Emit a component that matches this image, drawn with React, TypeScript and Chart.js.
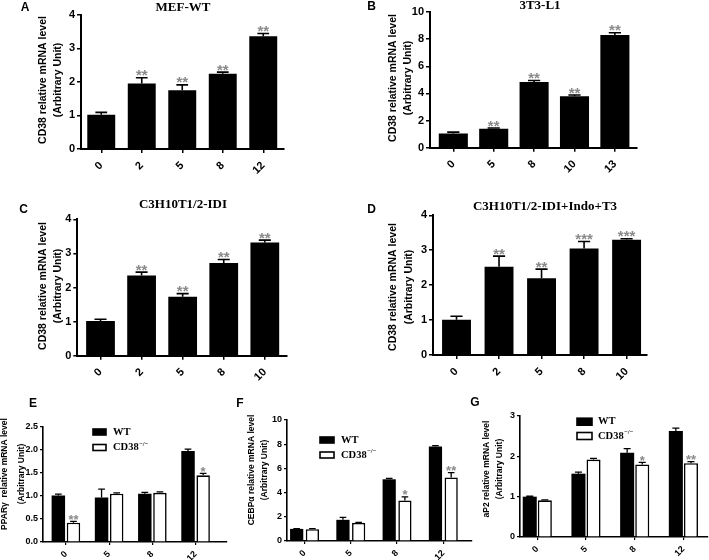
import React, { useEffect, useRef } from 'react';
import { Chart, registerables } from 'chart.js';

Chart.register(...registerables);

const W = 709;
const H = 560;
const CH = 620; // canvas height (taller than page so the x scale boxes never clip labels)

// ---------- data ----------
const daysA = ['0', '2', '5', '8', '12'];
const cd38A = [1.02, 1.95, 1.75, 2.24, 3.36];
const cd38ErrA = [0.07, 0.17, 0.16, 0.05, 0.08];
const starsA = ['', '**', '**', '**', '**'];

const daysB = ['0', '5', '8', '10', '13'];
const cd38B = [1.05, 1.4, 4.85, 3.8, 8.3];
const cd38ErrB = [0.1, 0.05, 0.1, 0.08, 0.17];
const starsB = ['', '**', '**', '**', '**'];

const daysC = ['0', '2', '5', '8', '10'];
const cd38C = [1.02, 2.35, 1.73, 2.72, 3.32];
const cd38ErrC = [0.05, 0.1, 0.09, 0.1, 0.07];
const starsC = ['', '**', '**', '**', '**'];

const daysD = ['0', '2', '5', '8', '10'];
const cd38D = [1.01, 2.53, 2.2, 3.05, 3.3];
const cd38ErrD = [0.1, 0.3, 0.26, 0.2, 0.03];
const starsD = ['', '**', '**', '***', '***'];

const daysEFG = ['0', '5', '8', '12'];

const ppargWT = [1.01, 0.97, 1.05, 1.98];
const ppargWTErr = [0.03, 0.18, 0.03, 0.04];
const ppargKO = [0.42, 1.05, 1.07, 1.45];
const ppargKOErr = [0.03, 0.02, 0.02, 0.04];
const ppargKOStars = ['**', '', '', '*'];

const cebpWT = [1.0, 1.75, 5.1, 7.8];
const cebpWTErr = [0.03, 0.2, 0.08, 0.08];
const cebpKO = [0.97, 1.5, 3.35, 5.25];
const cebpKOErr = [0.05, 0.04, 0.3, 0.4];
const cebpKOStars = ['', '', '*', '**'];

const ap2WT = [1.0, 1.57, 2.09, 2.63];
const ap2WTErr = [0.01, 0.04, 0.1, 0.07];
const ap2KO = [0.91, 1.92, 1.8, 1.83];
const ap2KOErr = [0.01, 0.03, 0.05, 0.04];
const ap2KOStars = ['', '', '*', '**'];

const noStars4 = ['', '', '', ''];

// ---------- fonts ----------
const SANS = '"Liberation Sans", Arial, sans-serif';
const SERIF = '"Liberation Serif", "Times New Roman", serif';
const STAR_COLOR = '#8a8a8a';

type Series = {
  label: string;
  values: number[];
  errs: number[];
  stars: string[];
  fill: string;
  borderW: number;
};

type Panel = {
  key: string;
  cats: string[];
  series: Series[];
  yMax: number;
  yStep: number;
  yDec: number;
  title?: string;
  titleX?: number;
  titleY?: number;
  letter: string;
  letterX: number;
  letterY: number;
  yTitle: string[];
  yTitleX: number[];
  yTitleY: number;
  area: { l: number; t: number; r: number; b: number };
  xMin: number;
  xMax: number;
  catPct: number;
  barPct: number;
  small: boolean;
  legend?: { x: number; w: number; h: number; rows: number[]; textX: number };
};

const single = (values: number[], errs: number[], stars: string[]): Series[] => [
  { label: 'CD38', values, errs, stars, fill: '#000', borderW: 0 },
];
const pair = (wt: number[], wtErr: number[], ko: number[], koErr: number[], koStars: string[]): Series[] => [
  { label: 'WT', values: wt, errs: wtErr, stars: noStars4, fill: '#000', borderW: 0 },
  { label: 'CD38-/-', values: ko, errs: koErr, stars: koStars, fill: '#fff', borderW: 1.6 },
];

const panels: Panel[] = [
  {
    key: 'A', cats: daysA, series: single(cd38A, cd38ErrA, starsA),
    yMax: 4, yStep: 1, yDec: 0,
    title: 'MEF-WT', titleX: 183, titleY: 8,
    letter: 'A', letterX: 25, letterY: 8,
    yTitle: ['CD38 relative mRNA level', '(Arbitrary Unit)'], yTitleX: [43, 58], yTitleY: 80,
    area: { l: 81, t: 14.7, r: 283.5, b: 149 }, xMin: -0.5, xMax: 4.5,
    catPct: 1, barPct: 0.69, small: false,
  },
  {
    key: 'B', cats: daysB, series: single(cd38B, cd38ErrB, starsB),
    yMax: 10, yStep: 2, yDec: 0,
    title: '3T3-L1', titleX: 540, titleY: 6,
    letter: 'B', letterX: 371.5, letterY: 7,
    yTitle: ['CD38 relative mRNA level', '(Arbitrary Unit)'], yTitleX: [393, 408], yTitleY: 78,
    area: { l: 430, t: 12, r: 636.7, b: 147.7 }, xMin: -0.577, xMax: 4.54,
    catPct: 1, barPct: 0.72, small: false,
  },
  {
    key: 'C', cats: daysC, series: single(cd38C, cd38ErrC, starsC),
    yMax: 4, yStep: 1, yDec: 0,
    title: 'C3H10T1/2-IDI', titleX: 183, titleY: 205,
    letter: 'C', letterX: 23.5, letterY: 210,
    yTitle: ['CD38 relative mRNA level', '(Arbitrary Unit)'], yTitleX: [43, 58], yTitleY: 286,
    area: { l: 77.3, t: 219.3, r: 287, b: 355.7 }, xMin: -0.565, xMax: 4.54,
    catPct: 1, barPct: 0.7, small: false,
  },
  {
    key: 'D', cats: daysD, series: single(cd38D, cd38ErrD, starsD),
    yMax: 4, yStep: 1, yDec: 0,
    title: 'C3H10T1/2-IDI+Indo+T3', titleX: 545, titleY: 207,
    letter: 'D', letterX: 371.5, letterY: 210,
    yTitle: ['CD38 relative mRNA level', '(Arbitrary Unit)'], yTitleX: [393, 409], yTitleY: 287,
    area: { l: 433, t: 215.3, r: 647, b: 355 }, xMin: -0.553, xMax: 4.48,
    catPct: 1, barPct: 0.68, small: false,
  },
  {
    key: 'E', cats: daysEFG, series: pair(ppargWT, ppargWTErr, ppargKO, ppargKOErr, ppargKOStars),
    yMax: 2.5, yStep: 0.5, yDec: 1,
    letter: 'E', letterX: 33, letterY: 404,
    yTitle: ['PPARγ  relative mRNA level', '(Arbitrary Unit)'], yTitleX: [5, 22], yTitleY: 474,
    area: { l: 43, t: 427, r: 226.7, b: 542 }, xMin: -0.53, xMax: 3.72,
    catPct: 0.7, barPct: 0.89, small: true,
    legend: { x: 93, w: 13, h: 6, rows: [432, 447.5], textX: 113 },
  },
  {
    key: 'F', cats: daysEFG, series: pair(cebpWT, cebpWTErr, cebpKO, cebpKOErr, cebpKOStars),
    yMax: 10, yStep: 2, yDec: 0,
    letter: 'F', letterX: 240, letterY: 404,
    yTitle: ['CEBPα relative mRNA level', '(Arbitrary Unit)'], yTitleX: [252, 265], yTitleY: 470,
    area: { l: 287, t: 420, r: 472, b: 541 }, xMin: -0.379, xMax: 3.62,
    catPct: 0.68, barPct: 0.84, small: true,
    legend: { x: 320, w: 14, h: 6, rows: [440, 455], textX: 341 },
  },
  {
    key: 'G', cats: daysEFG, series: pair(ap2WT, ap2WTErr, ap2KO, ap2KOErr, ap2KOStars),
    yMax: 3, yStep: 1, yDec: 0,
    letter: 'G', letterX: 475, letterY: 403,
    yTitle: ['aP2 relative mRNA level', '(Arbitrary Unit)'], yTitleX: [487, 500], yTitleY: 469,
    area: { l: 520, t: 416, r: 708, b: 537 }, xMin: -0.355, xMax: 3.505,
    catPct: 0.62, barPct: 0.93, small: true,
    legend: { x: 577, w: 15, h: 7, rows: [421.7, 436], textX: 598 },
  },
];

function makePlugin(p: Panel) {
  return {
    id: 'overlay' + p.key,
    afterDatasetsDraw(chart: any) {
      const ctx = chart.ctx as CanvasRenderingContext2D;
      const yScale = chart.scales.y;
      ctx.save();
      p.series.forEach((s, di) => {
        const meta = chart.getDatasetMeta(di);
        meta.data.forEach((bar: any, i: number) => {
          const props = bar.getProps(['x', 'y', 'width'], true);
          const top = props.y;
          const eY = yScale.getPixelForValue(s.values[i] + s.errs[i]);
          const capW = props.width * (p.small ? 0.5 : 0.42);
          ctx.strokeStyle = '#000';
          ctx.lineWidth = p.small ? 1.3 : 1.6;
          ctx.beginPath();
          ctx.moveTo(props.x, top);
          ctx.lineTo(props.x, eY);
          ctx.moveTo(props.x - capW / 2, eY);
          ctx.lineTo(props.x + capW / 2, eY);
          ctx.stroke();
          const st = s.stars[i];
          if (st) {
            ctx.fillStyle = STAR_COLOR;
            ctx.font = `bold ${p.small ? 13 : 15}px ${SANS}`;
            ctx.textAlign = 'center';
            ctx.textBaseline = 'alphabetic';
            ctx.fillText(st, props.x, eY + 2.5);
          }
        });
      });
      ctx.restore();
    },
    afterDraw(chart: any) {
      const ctx = chart.ctx as CanvasRenderingContext2D;
      ctx.save();
      ctx.fillStyle = '#000';
      ctx.font = `bold 12px ${SANS}`;
      ctx.textAlign = 'center';
      ctx.textBaseline = 'middle';
      ctx.fillText(p.letter, p.letterX, p.letterY);
      if (p.title) {
        ctx.font = `bold 13px ${SERIF}`;
        ctx.fillText(p.title, p.titleX!, p.titleY!);
      }
      ctx.font = `bold ${p.small ? 8.5 : 10.5}px ${SANS}`;
      p.yTitle.forEach((line, k) => {
        ctx.save();
        ctx.translate(p.yTitleX[k], p.yTitleY);
        ctx.rotate(-Math.PI / 2);
        ctx.fillText(line, 0, 0);
        ctx.restore();
      });
      if (p.legend) {
        const lg = p.legend;
        p.series.forEach((s, k) => {
          const cy = lg.rows[k];
          ctx.fillStyle = s.fill;
          ctx.fillRect(lg.x, cy - lg.h / 2, lg.w, lg.h);
          ctx.strokeStyle = '#000';
          ctx.lineWidth = 1.6;
          ctx.strokeRect(lg.x, cy - lg.h / 2, lg.w, lg.h);
          ctx.fillStyle = '#000';
          ctx.textAlign = 'left';
          ctx.textBaseline = 'middle';
          ctx.font = `bold 10.5px ${SERIF}`;
          if (k === 0) {
            ctx.fillText('WT', lg.textX, cy);
          } else {
            ctx.fillText('CD38', lg.textX, cy);
            const w = ctx.measureText('CD38').width;
            ctx.font = `bold 6.5px ${SERIF}`;
            ctx.fillText('\u2212/\u2212', lg.textX + w + 0.5, cy - 3.5);
          }
        });
      }
      ctx.restore();
    },
  };
}

function makeConfig(p: Panel): any {
  const yW = 30;
  const xH = 40;
  const tickSize = p.small ? 9 : 11;
  const axisW = p.small ? 1.6 : 2;
  return {
    type: 'bar',
    data: {
      datasets: p.series.map((s) => ({
        label: s.label,
        data: s.values.map((v, i) => ({ x: i, y: v })),
        backgroundColor: s.fill,
        borderColor: '#000',
        borderWidth: s.borderW,
        categoryPercentage: p.catPct,
        barPercentage: p.barPct,
      })),
    },
    options: {
      responsive: false,
      animation: false,
      events: [],
      layout: {
        padding: {
          left: p.area.l - yW,
          top: p.area.t,
          right: W - p.area.r,
          bottom: CH - p.area.b - xH,
        },
      },
      plugins: {
        legend: { display: false },
        title: { display: false },
        tooltip: { enabled: false },
      },
      scales: {
        x: {
          type: 'linear',
          min: p.xMin,
          max: p.xMax,
          offset: false,
          afterFit: (s: any) => {
            s.height = xH;
          },
          afterBuildTicks: (s: any) => {
            s.ticks = p.cats.map((_, i) => ({ value: i }));
          },
          grid: {
            display: true,
            offset: false,
            drawOnChartArea: false,
            drawTicks: true,
            tickLength: p.small ? 3 : 4,
            color: '#000',
            lineWidth: p.small ? 1.2 : 1.5,
          },
          border: { display: true, color: '#000', width: axisW },
          ticks: {
            autoSkip: false,
            minRotation: 45,
            maxRotation: 45,
            padding: p.small ? 4 : 6,
            color: '#000',
            font: { family: SANS, size: tickSize, weight: 'bold' },
            callback: (v: number) => p.cats[v],
          },
        },
        y: {
          type: 'linear',
          min: 0,
          max: p.yMax,
          afterFit: (s: any) => {
            s.width = yW;
          },
          grid: {
            display: true,
            drawOnChartArea: false,
            drawTicks: true,
            tickLength: p.small ? 3 : 4,
            color: '#000',
            lineWidth: p.small ? 1.2 : 1.5,
          },
          border: { display: true, color: '#000', width: axisW },
          ticks: {
            stepSize: p.yStep,
            padding: 2,
            color: '#000',
            font: { family: SANS, size: tickSize, weight: 'bold' },
            callback: (v: number) => v.toFixed(p.yDec),
          },
        },
      },
    },
    plugins: [makePlugin(p)],
  };
}

function PanelCanvas({ p }: { p: Panel }) {
  const ref = useRef<HTMLCanvasElement | null>(null);
  useEffect(() => {
    if (!ref.current) return;
    const chart = new Chart(ref.current, makeConfig(p));
    return () => chart.destroy();
  }, [p]);
  return (
    <canvas
      ref={ref}
      width={W}
      height={CH}
      style={{ position: 'absolute', left: 0, top: 0, width: W, height: CH, pointerEvents: 'none' }}
    />
  );
}

export default function App() {
  return (
    <div
      style={{
        position: 'absolute',
        left: 0,
        top: 0,
        width: W,
        height: H,
        background: '#fff',
        overflow: 'hidden',
      }}
    >
      {panels.map((p) => (
        <PanelCanvas key={p.key} p={p} />
      ))}
    </div>
  );
}
